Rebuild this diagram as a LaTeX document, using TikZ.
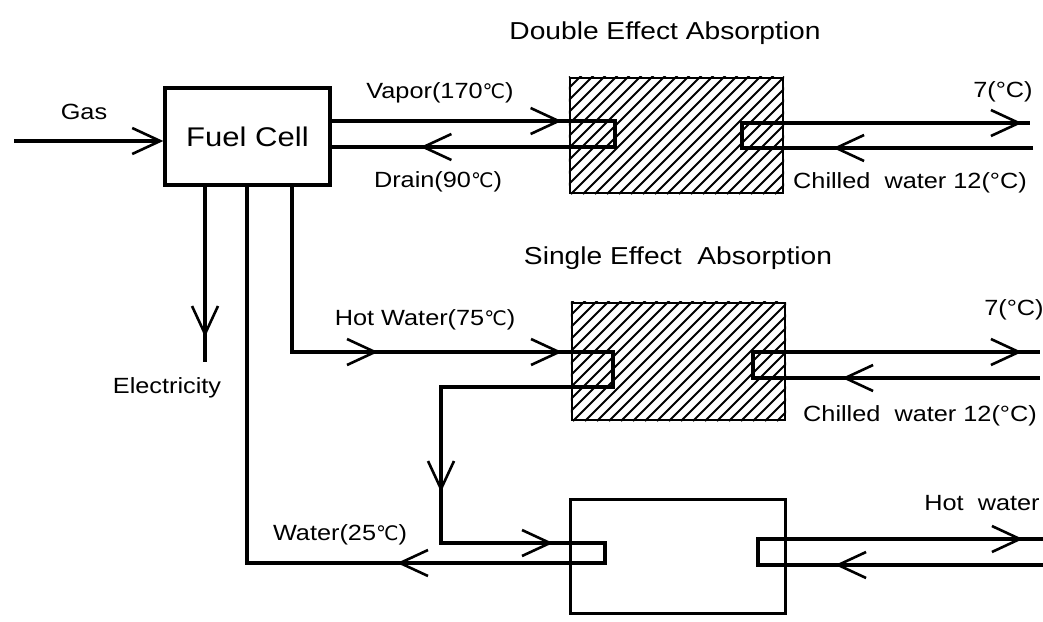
\documentclass[tikz,border=0pt]{standalone}
\usepackage{fontspec}
\setmainfont{Liberation Sans}[FakeStretch=1.15]
\newfontfamily\dvfont{DejaVu Sans}
\usetikzlibrary{arrows.meta,decorations.markings,calc}
\newcommand{\myDegC}{{\dvfont\fontsize{20}{20}\selectfont ℃}}
\tikzset{
  Bt/.tip={Straight Barb[length=28pt,width=26pt,line width=2.6pt]},
  flow/.style={line width=3.4pt, line join=miter},
  am/.style={postaction={decorate,decoration={markings,mark=at position #1 with {\arrow{Bt}}}}},
  lbl/.style={font=\fontsize{22}{24}\selectfont, inner sep=0pt},
  ttl/.style={font=\fontsize{24.5}{26}\selectfont, inner sep=0pt},
  fcbox/.style={draw, line width=3.4pt, inner sep=0pt, minimum width=165pt, minimum height=97pt, font=\fontsize{27}{29}\selectfont},
  hbox/.style={draw, line width=2.2pt, inner sep=0pt, minimum width=213pt, minimum height=#1},
  pbox/.style={draw, line width=3pt, inner sep=0pt, minimum width=215pt, minimum height=114pt},
  hatch/.style={line width=1.8pt}
}
\begin{document}
\begin{tikzpicture}[x=1pt,y=-1pt]
\useasboundingbox (0,0) rectangle (1043,621);

% boxes
\node[fcbox] (fc) at (247.5,136.5) {Fuel\ Cell};
\node[hbox=115pt] (dbl) at (676.5,135.5) {};
\node[hbox=117pt] (sgl) at (678.5,361.5) {};
\node[pbox] (hx) at (677.5,556) {};

% hatching
\begin{scope}
  \clip (dbl.south west) rectangle (dbl.north east);
  \foreach \k in {0,...,30} \draw[hatch] ($(dbl.south west)+(\k*12-130,0)$) -- ++(150,-150);
\end{scope}
\begin{scope}
  \clip (sgl.south west) rectangle (sgl.north east);
  \foreach \k in {0,...,30} \draw[hatch] ($(sgl.south west)+(\k*12-130,0)$) -- ++(150,-150);
\end{scope}

% coordinates
\coordinate (gasin) at (14,141);
\coordinate (v1) at (615,121);
\coordinate (v2) at (615,147);
\coordinate (d1) at (742,123);
\coordinate (d2) at (742,148);
\coordinate (e1) at (1030,123);
\coordinate (e2) at (1033,148);
\coordinate (elec) at (205,362);
\coordinate (hw1) at (292,352);
\coordinate (s1) at (613,352);
\coordinate (s2) at (613,387);
\coordinate (s3) at (441,387);
\coordinate (s4) at (441,543);
\coordinate (h1) at (605,543);
\coordinate (h2) at (605,563);
\coordinate (w1) at (247,563);
\coordinate (r1) at (753,352);
\coordinate (r2) at (753,378);
\coordinate (f1) at (1040,352);
\coordinate (f2) at (1040,378);
\coordinate (t1) at (758,539);
\coordinate (t2) at (758,565);
\coordinate (g1) at (1043,539);
\coordinate (g2) at (1043,565);

% connectors
\draw[flow,-{Bt}] (gasin) -- (fc.west |- gasin);
\draw[flow,am=230pt,am=504pt] (fc.east |- v1) -- (v1) -- (v2) -- (fc.east |- v2);
\draw[flow,am=200pt,am=-8pt] (e2) -- (d2) -- (d1) -- (e1);
\draw[flow,am=150.4pt] (fc.south -| elec) -- (elec);
\draw[flow,am=251.4pt,am=435.4pt,am=798.4pt,am=961.4pt,am=1241.4pt]
  (fc.south -| hw1) -- (hw1) -- (s1) -- (s2) -- (s3) -- (s4) -- (h1) -- (h2) -- (w1) -- (fc.south -| w1);
\draw[flow,am=198pt,am=-18pt] (f2) -- (r2) -- (r1) -- (f1);
\draw[flow,am=208pt,am=-20pt] (g2) -- (t2) -- (t1) -- (g1);

% labels
\node[lbl] (lgas) at (84,112) {Gas};
\node[ttl] (ldbl) at (665,33) {Double Effect Absorption};
\node[lbl] (lvap) at (440,93) {Vapor(170\myDegC)};
\node[lbl] (ldrn) at (438,182) {Drain(90\myDegC)};
\node[lbl] (l7a) at (1003,92) {7(°C)};
\node[lbl] (lcwa) at (910,183) {Chilled~~water 12(°C)};
\node[ttl] (lsgl) at (678,258) {Single Effect~~Absorption};
\node[lbl] (lhw) at (425,320) {Hot Water(75\myDegC)};
\node[lbl] (l7b) at (1014,310) {7(°C)};
\node[lbl] (lcwb) at (920,416) {Chilled~~water 12(°C)};
\node[lbl] (lel) at (167,388) {Electricity};
\node[lbl] (lw) at (340,535) {Water(25\myDegC)};
\node[lbl] (lhot) at (982,503) {Hot~~water};
\end{tikzpicture}
\end{document}
